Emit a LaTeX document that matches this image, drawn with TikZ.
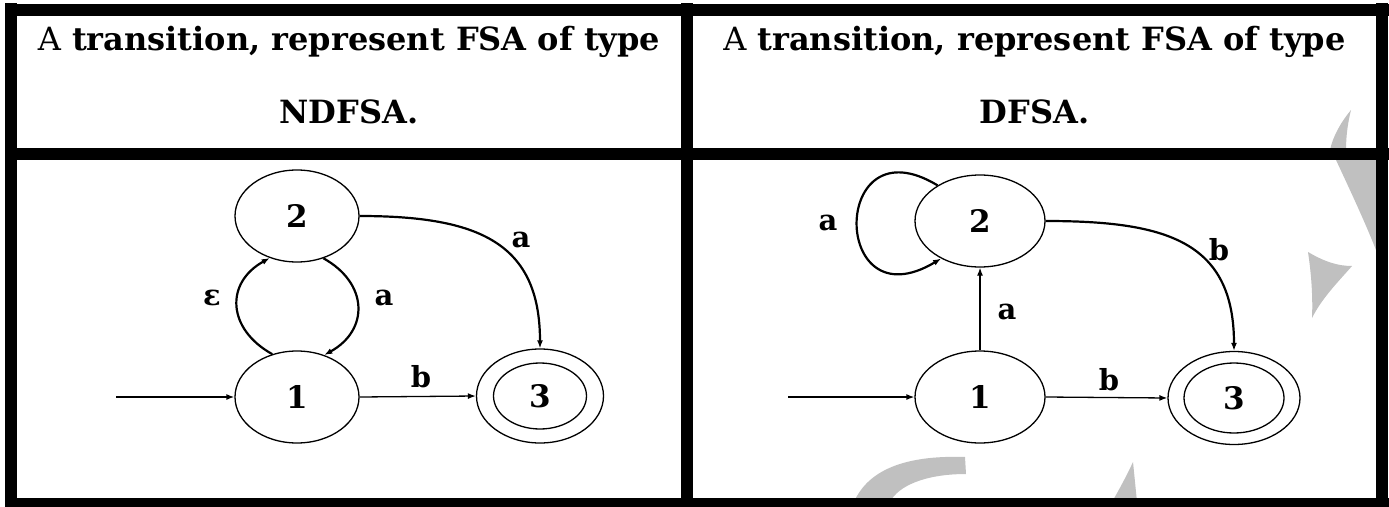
\documentclass[tikz,border=0pt]{standalone}
\usepackage{fontspec}
\setmainfont{DejaVu Serif}
\usetikzlibrary{arrows.meta,shapes.geometric}
\definecolor{wm}{RGB}{192,192,192}
\begin{document}
\begin{tikzpicture}[x=1pt,y=-1pt,
  st/.style={ellipse, draw, line width=1.3pt, minimum width=124pt, minimum height=92pt, inner sep=0pt,
             font=\fontsize{31}{31}\selectfont\bfseries},
  inner/.style={ellipse, draw, line width=1.3pt, minimum width=93pt, minimum height=66pt, inner sep=0pt,
             font=\fontsize{31}{31}\selectfont\bfseries},
  edge/.style={line width=1.3pt, -{Latex[length=8pt,width=6pt]}},
  cedge/.style={line width=2.2pt, -{Latex[length=8pt,width=6pt]}},
  lbl/.style={font=\fontsize{29}{29}\selectfont\bfseries, inner sep=0pt},
  hdr/.style={font=\fontsize{32}{36}\selectfont\bfseries, anchor=base, inner sep=0pt},
  rule/.style={line width=12pt, line cap=butt}]
\useasboundingbox (0,0) rectangle (1389,506);
\fill[white] (0,0) rectangle (1389,506);

% watermark
\fill[wm] (1351,110) .. controls (1341,122) and (1333,136) .. (1330,150) -- (1346,150) .. controls (1346,135) and (1348,122) .. cycle;
\fill[wm] (1336,160) .. controls (1350,190) and (1365,222) .. (1376,250) -- (1376,160) -- cycle;
\fill[wm] (1308,252) .. controls (1325,262) and (1338,266) .. (1352,266) .. controls (1338,282) and (1322,298) .. (1312,318) .. controls (1313,295) and (1311,272) .. cycle;
\fill[wm] (854,502) .. controls (868,470) and (905,455) .. (965,457) -- (966,474) .. controls (925,474) and (898,486) .. (890,502) -- cycle;
\fill[wm] (1133,462) -- (1137,502) -- (1112,502) .. controls (1120,488) and (1127,475) .. cycle;

% table rules
\draw[rule] (11,3) -- (11,506);
\draw[rule] (687,3) -- (687,506);
\draw[rule] (1382,3) -- (1382,506);
\draw[rule] (5,9.5) -- (1389,9.5);
\draw[rule] (5,154) -- (1389,154);
\draw[rule] (5,504) -- (1389,504);

% headers
\node[hdr] (hL1) at (349,50) {{\mdseries A} transition, represent FSA of type};
\node[hdr] (hL2) at (349,123) {NDFSA.};
\node[hdr] (hR1) at (1034.5,50) {{\mdseries A} transition, represent FSA of type};
\node[hdr] (hR2) at (1034.5,123) {DFSA.};

% left automaton (NDFSA)
\node[st] (n2L) at (297,216) {2};
\node[st] (n1L) at (297,397) {1};
\node[st, minimum width=127pt, minimum height=94pt] (n3L) at (540,396) {};
\node[inner] (n3Li) at (540,396) {3};
\coordinate (sL) at (116,397);
\draw[edge] (sL) -- (n1L.west);
\draw[edge] (n1L.east) -- (n3L.west);
\draw[cedge] (n1L.120) .. controls +(-45,-25) and +(-45,25) .. (n2L.237);
\draw[cedge] (n2L.302) .. controls +(45,25) and +(45,-25) .. (n1L.57);
\draw[cedge] (n2L.east) .. controls +(120,0) and +(0,-105) .. (n3L.north);
\node[lbl] (eL) at (212,298) {ε};
\node[lbl] (aL1) at (384,298) {a};
\node[lbl] (bL) at (421,377) {b};
\node[lbl] (aL2) at (521,240) {a};

% right automaton (DFSA)
\node[st, minimum width=130pt] (n2R) at (980,221) {2};
\node[st, minimum width=130pt] (n1R) at (980,397) {1};
\node[st, minimum width=132pt, minimum height=93pt] (n3R) at (1234,398) {};
\node[inner, minimum width=100pt, minimum height=70pt] (n3Ri) at (1234,398) {3};
\coordinate (sR) at (788,397);
\draw[edge] (sR) -- (n1R.west);
\draw[edge] (n1R.east) -- (n3R.west);
\draw[edge] (n1R.north) -- (n2R.south);
\draw[cedge] (n2R.140) .. controls (830,120) and (830,325) .. (n2R.224);
\draw[cedge] (n2R.east) .. controls +(120,0) and +(0,-110) .. (n3R.north);
\node[lbl] (aR0) at (828,223) {a};
\node[lbl] (aR1) at (1007,312) {a};
\node[lbl] (bR1) at (1109,380) {b};
\node[lbl] (bR2) at (1219,250) {b};
\end{tikzpicture}
\end{document}
